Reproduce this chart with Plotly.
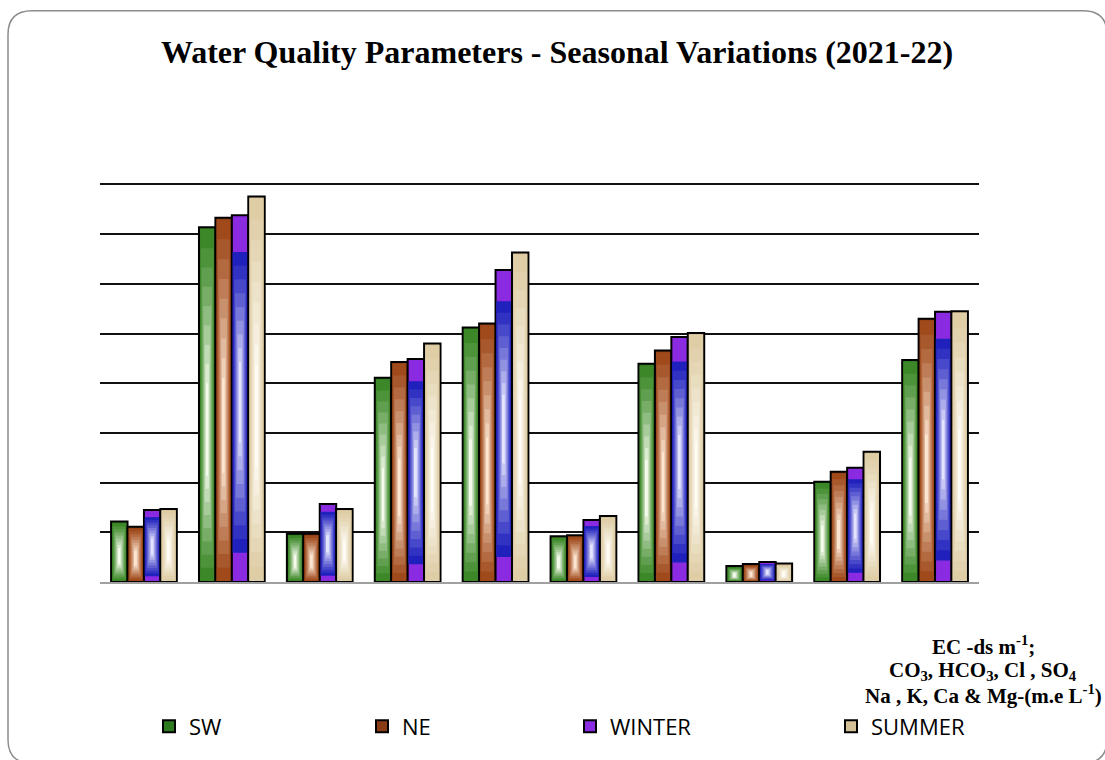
import numpy as np
import plotly.graph_objects as go

# ---------------- data ----------------
categories = ["EC", "pH", "CO3", "HCO3", "Cl", "SO4", "Na", "K", "Ca", "Mg"]
sw = [1.22, 7.14, 0.97, 4.11, 5.12, 0.92, 4.39, 0.32, 2.02, 4.47]
ne = [1.11, 7.33, 0.97, 4.43, 5.20, 0.94, 4.66, 0.36, 2.22, 5.30]
winter = [1.45, 7.38, 1.57, 4.49, 6.28, 1.25, 4.93, 0.40, 2.30, 5.44]
summer = [1.47, 7.76, 1.47, 4.80, 6.63, 1.33, 5.01, 0.37, 2.62, 5.45]
series_names = ["SW", "NE", "WINTER", "SUMMER"]
series_values = [sw, ne, winter, summer]

# ---------------- styling ----------------
W = 0.187  # bar width (category units)
# (outer/edge colour, inner gradient start, gradient end/highlight)
palettes = {
    "SW": ("#2e7a1f", "#3c8828", "#f4fbec"),
    "NE": ("#8a3c14", "#a04a1c", "#fce6d2"),
    "WINTER": ("#8a2be2", "#2020bc", "#e4e4ff"),
    "SUMMER": ("#d4c096", "#dfcda6", "#fffdf6"),
}
N_LAYERS = 9


def hex2rgb(h):
    h = h.lstrip("#")
    return np.array([int(h[i:i + 2], 16) for i in (0, 2, 4)], dtype=float)


def mix(c1, c2, t):
    c = hex2rgb(c1) * (1 - t) + hex2rgb(c2) * t
    return "rgb({:.0f},{:.0f},{:.0f})".format(*c)


FIG_W, FIG_H = 1105, 760
L, R, T, B = 100, 126, 182, 174
PW, PH = FIG_W - L - R, FIG_H - T - B


def xp(px):
    return (px - L) / PW


def yp(py):
    return (FIG_H - B - py) / PH


fig = go.Figure()

for s, (name, vals) in enumerate(zip(series_names, series_values)):
    v = np.array(vals, dtype=float)
    edge, g0, g1 = palettes[name]
    off = -2 * W + s * W
    legend_id = "legend" if s == 0 else f"legend{s + 1}"
    fig.add_trace(go.Bar(
        x=categories, y=v, width=W, offset=off, name=name,
        marker=dict(color=edge, line=dict(color="#000000", width=2)),
        legend=legend_id, showlegend=True, hoverinfo="name+y",
    ))
    for k in range(N_LAYERS):
        t = k / (N_LAYERS - 1)
        if name == "WINTER":
            wf = 0.92 - 0.80 * t
            base = v * ((1 - t) * 0.08 + t * 0.38)
            top = v * ((1 - t) * 0.90 + t * 0.60)
        else:
            wf = 0.86 - 0.74 * t
            base = (1 - t) * 0.02 + t * 0.30 * v
            top = (1 - t) * (v - 0.035) + t * 0.56 * v
        fig.add_trace(go.Bar(
            x=categories, y=top - base, base=base, width=W * wf,
            offset=off + W * (1 - wf) / 2,
            marker=dict(color=mix(g0, g1, t ** 1.15), line=dict(width=0)),
            showlegend=False, hoverinfo="skip", legend=legend_id,
        ))

# rounded outer frame
x0, y0, x1, y1, r = 8, 9, 1107, 769, 24
path = (
    f"M {xp(x0 + r)},{yp(y0)} L {xp(x1 - r)},{yp(y0)} "
    f"Q {xp(x1)},{yp(y0)} {xp(x1)},{yp(y0 + r)} "
    f"L {xp(x1)},{yp(y1 - r)} Q {xp(x1)},{yp(y1)} {xp(x1 - r)},{yp(y1)} "
    f"L {xp(x0 + r)},{yp(y1)} Q {xp(x0)},{yp(y1)} {xp(x0)},{yp(y1 - r)} "
    f"L {xp(x0)},{yp(y0 + r)} Q {xp(x0)},{yp(y0)} {xp(x0 + r)},{yp(y0)} Z"
)

legend_font = dict(family="Open Sans", size=22, color="#000000")
sym_centers = [175, 388, 596, 857]
legends = {}
for s, sc in enumerate(sym_centers):
    key = "legend" if s == 0 else f"legend{s + 1}"
    legends[key] = dict(
        x=xp(sc - 26), y=yp(732), xanchor="left", yanchor="middle",
        orientation="h", font=legend_font, bgcolor="rgba(0,0,0,0)",
        borderwidth=0,
    )

serif = "Liberation Serif"
fig.update_layout(
    width=FIG_W, height=FIG_H,
    margin=dict(l=L, r=R, t=T, b=B),
    paper_bgcolor="#ffffff", plot_bgcolor="#ffffff",
    barmode="overlay",
    title=dict(
        text="<b>Water Quality Parameters - Seasonal Variations (2021-22)</b>",
        x=557 / FIG_W, xref="container", xanchor="center",
        y=1 - 52 / FIG_H, yref="container", yanchor="middle",
        font=dict(family=serif, size=32, color="#000000"),
    ),
    xaxis=dict(
        type="category", range=[-0.5, 9.5], showgrid=False, zeroline=False,
        showticklabels=False, ticks="", showline=True,
        linecolor="#a0a0a0", linewidth=2,
    ),
    yaxis=dict(
        range=[0, 8.05], dtick=1, tick0=0, showgrid=True,
        gridcolor="#111111", gridwidth=2, zeroline=False,
        showticklabels=False, ticks="", showline=False,
    ),
    shapes=[dict(type="path", xref="paper", yref="paper", path=path,
                 line=dict(color="#8c8c8c", width=1.5), layer="below")],
    showlegend=True,
    **legends,
)

note_font = dict(family=serif, size=21, color="#000000")
note_lines = [
    ("<b>EC -ds m<sup>-1</sup>;</b>", 650),
    ("<b>CO<sub>3</sub>, HCO<sub>3</sub>, Cl , SO<sub>4</sub></b>", 676),
    ("<b>Na , K, Ca &amp; Mg-(m.e L<sup>-1</sup>)</b>", 700),
]
for txt, py in note_lines:
    fig.add_annotation(
        text=txt, xref="paper", yref="paper", x=xp(983), y=yp(py),
        xanchor="center", yanchor="middle", showarrow=False, font=note_font,
    )

fig.write_html(
    "out.html",
    config={"displayModeBar": False},
    post_script="document.body.style.margin='0';document.body.style.overflow='hidden';",
)
